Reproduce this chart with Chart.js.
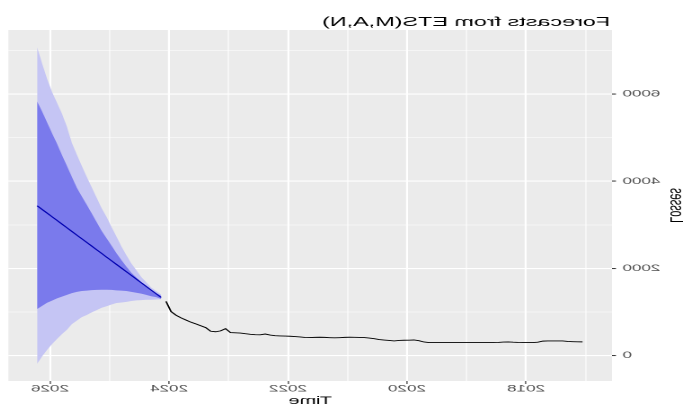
<!DOCTYPE html>
<html>
<head>
<meta charset="utf-8">
<script src="https://cdn.jsdelivr.net/npm/chart.js@4"></script>
<style>
  html, body { margin: 0; padding: 0; background: #fff; overflow: hidden; }
  #wrap { position: relative; width: 683px; height: 404px; overflow: hidden; }
  /* the reference is a mirrored, horizontally stretched plot */
  #chart { position: absolute; left: 0; top: 0; transform-origin: 0 0; transform: translateX(683px) scaleX(-1.797); }
</style>
</head>
<body>
<div id="wrap"><canvas id="chart" width="380" height="404"></canvas></div>
<script>
// monthly series, observed part then 26 forecast months
const obsStart = 2017.05;
const fcStart = 2024.133;
const obsValues = [
  313, 315, 318, 322, 335, 335, 335, 335, 330, 305, 297, 297,
  298, 300, 305, 312, 308, 300, 297, 297, 297, 297, 297, 297,
  297, 297, 297, 297, 297, 297, 297, 297, 310, 340, 356, 352,
  350, 345, 335, 345, 355, 366, 385, 400, 411, 415, 418, 419,
  416, 410, 405, 410, 416, 419, 416, 412, 415, 425, 435, 442,
  446, 450, 455, 470, 493, 474, 478, 487, 500, 515, 520, 525,
  617, 565, 545, 556, 640, 682, 725, 765, 815, 865, 925, 1010,
  1241
];
const fcMean = [1333, 1417, 1501, 1585, 1670, 1754, 1838, 1922, 2006, 2090, 2174, 2258, 2343,
  2427, 2511, 2595, 2679, 2763, 2847, 2931, 3016, 3100, 3184, 3268, 3352, 3436];
const fcHi80 = [1370, 1430, 1490, 1570, 1680, 1790, 1900, 2040, 2190, 2347, 2520, 2690, 2860,
  3060, 3260, 3460, 3650, 3850, 4100, 4350, 4600, 4862, 5100, 5350, 5600, 5829];
const fcLo80 = [1300, 1340, 1360, 1390, 1420, 1440, 1460, 1480, 1490, 1495, 1505, 1510, 1510,
  1505, 1500, 1490, 1480, 1460, 1430, 1390, 1350, 1310, 1260, 1210, 1140, 1067];
const fcHi95 = [1400, 1480, 1560, 1680, 1800, 1960, 2110, 2300, 2500, 2727, 2950, 3180, 3380,
  3620, 3860, 4100, 4350, 4610, 4880, 5250, 5550, 5800, 6050, 6350, 6700, 7070];
const fcLo95 = [1290, 1285, 1280, 1278, 1272, 1265, 1250, 1230, 1215, 1204, 1170, 1130, 1095,
  1040, 990, 930, 880, 800, 720, 590, 490, 380, 260, 130, -20, -190];

const xTicks = [2017, 2018, 2019, 2020, 2021, 2022, 2023, 2024, 2025, 2026];
const xLabels = [2018, 2020, 2022, 2024, 2026];
const yTicks = [0, 1000, 2000, 3000, 4000, 5000, 6000, 7000];
const yLabels = [0, 2000, 4000, 6000];

function toPoints(vals, start) {
  return vals.map(function (v, i) { return { x: start + i / 12, y: v }; });
}

const font = '"Liberation Sans", Arial, sans-serif';

const panelBg = {
  id: 'panelBg',
  beforeDraw(chart) {
    const a = chart.chartArea, ctx = chart.ctx;
    ctx.save();
    ctx.fillStyle = '#ebebeb';
    ctx.fillRect(a.left, a.top, a.right - a.left, a.bottom - a.top);
    ctx.restore();
  }
};

const plotTitle = {
  id: 'plotTitle',
  afterDraw(chart) {
    const ctx = chart.ctx;
    ctx.save();
    ctx.font = '13px ' + font;
    ctx.fillStyle = '#000';
    ctx.textBaseline = 'alphabetic';
    ctx.textAlign = 'left';
    ctx.fillText('Forecasts from ETS(M,A,N)', chart.chartArea.left + 1, 26);
    ctx.restore();
  }
};

function gridWidth(labels, major, minor) {
  return function (c) {
    return c.tick && labels.includes(c.tick.value) ? major : minor;
  };
}
function tickCol(labels) {
  return function (c) {
    return c.tick && labels.includes(c.tick.value) ? '#333333' : 'rgba(0,0,0,0)';
  };
}

new Chart(document.getElementById('chart'), {
  type: 'line',
  data: {
    datasets: [
      { data: toPoints(obsValues, obsStart), borderColor: '#000', borderWidth: 0.9, pointRadius: 0, fill: false },
      { data: toPoints(fcMean, fcStart), borderColor: '#0000b0', borderWidth: 0.9, pointRadius: 0, fill: false },
      { data: toPoints(fcHi80, fcStart), borderWidth: 0, pointRadius: 0, backgroundColor: '#7a7aec', fill: '+1' },
      { data: toPoints(fcLo80, fcStart), borderWidth: 0, pointRadius: 0, fill: false },
      { data: toPoints(fcHi95, fcStart), borderWidth: 0, pointRadius: 0, backgroundColor: '#c5c5f4', fill: '+1' },
      { data: toPoints(fcLo95, fcStart), borderWidth: 0, pointRadius: 0, fill: false }
    ]
  },
  options: {
    responsive: false,
    devicePixelRatio: 2,
    animation: false,
    layout: { padding: { top: 30, right: 4.6, left: 0, bottom: 0 } },
    plugins: { legend: { display: false }, tooltip: { enabled: false } },
    scales: {
      x: {
        type: 'linear',
        min: 2016.555,
        max: 2026.70,
        afterBuildTicks: function (s) { s.ticks = xTicks.map(function (v) { return { value: v }; }); },
        afterFit: function (s) { s.height = 23; },
        border: { display: false },
        grid: { color: '#ffffff', lineWidth: gridWidth(xLabels, 1.1, 0.55), tickColor: tickCol(xLabels), tickLength: 3, tickWidth: 0.6 },
        ticks: {
          autoSkip: false, maxRotation: 0, padding: 0, color: '#4d4d4d', font: { family: font, size: 9.5, lineHeight: 1 },
          callback: function (v) { return xLabels.includes(v) ? String(v) : ''; }
        },
        title: { display: true, text: 'Time', color: '#000', font: { family: font, size: 11, lineHeight: 1 }, padding: { top: 0, bottom: -2.5 } }
      },
      y: {
        type: 'linear',
        min: -585,
        max: 7469,
        afterBuildTicks: function (s) { s.ticks = yTicks.map(function (v) { return { value: v }; }); },
        afterFit: function (s) { s.width = 39.5; },
        border: { display: false },
        grid: { color: '#ffffff', lineWidth: gridWidth(yLabels, 1.1, 0.55), tickColor: tickCol(yLabels), tickLength: 2.2, tickWidth: 1 },
        ticks: {
          padding: 3.6, color: '#4d4d4d', font: { family: font, size: 9.5 },
          callback: function (v) { return yLabels.includes(v) ? String(v) : ''; }
        },
        title: { display: true, text: 'Losses', color: '#000', font: { family: font, size: 11, lineHeight: 1 }, padding: { top: -1.5, bottom: 0 } }
      }
    }
  },
  plugins: [panelBg, plotTitle]
});
</script>
</body>
</html>
